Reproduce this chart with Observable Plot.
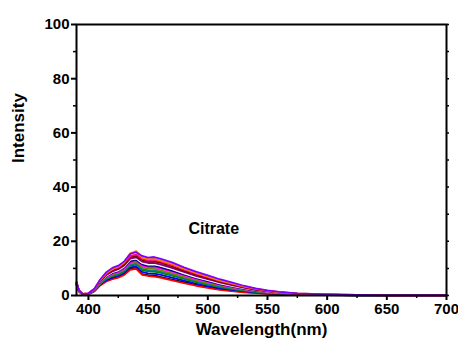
<!DOCTYPE html>
<html>
<head>
<meta charset="utf-8">
<script src="https://cdn.jsdelivr.net/npm/d3@7"></script>
<script src="https://cdn.jsdelivr.net/npm/@observablehq/plot@0.6"></script>
<style>
  html, body { margin: 0; padding: 0; background: #fff; }
  #chart { width: 458px; height: 346px; }
</style>
</head>
<body>
<div id="chart"></div>
<script>
// ---- data ----
const wavelengths = [390, 392, 395, 400, 405, 410, 415, 420, 425, 430, 435, 440, 445, 450, 455, 460, 470, 480, 490, 500, 510, 520, 530, 540, 550, 560, 575, 600, 625, 650, 675, 700];

const sBlack   = [3.8, 1.5, 0.4, 0.5, 1.6, 3.9, 5.4, 6.2, 6.8, 7.9, 9.8, 10.1, 7.9, 7.5, 7.4, 6.9, 5.9, 4.9, 3.9, 3.0, 2.3, 1.8, 1.3, 1.0, 0.7, 0.5, 0.3, 0.15, 0.1, 0.05, 0.05, 0.05];
const sRed     = [4.0, 1.5, 0.4, 0.5, 1.6, 3.8, 5.2, 6.0, 6.6, 7.6, 9.5, 9.8, 7.6, 7.2, 7.0, 6.6, 5.6, 4.6, 3.6, 2.8, 2.1, 1.6, 1.2, 0.9, 0.7, 0.5, 0.3, 0.15, 0.1, 0.05, 0.05, 0.05];
const sBlue    = [4.2, 1.6, 0.4, 0.5, 1.7, 4.1, 5.7, 6.6, 7.3, 8.4, 10.4, 10.7, 8.7, 8.2, 8.1, 7.7, 6.6, 5.5, 4.4, 3.5, 2.7, 2.1, 1.6, 1.2, 0.9, 0.6, 0.4, 0.2, 0.1, 0.1, 0.05, 0.05];
const sGreen   = [4.3, 1.6, 0.5, 0.6, 1.8, 4.4, 6.1, 7.1, 7.7, 8.9, 11.0, 11.4, 9.4, 8.9, 8.8, 8.4, 7.3, 6.1, 4.9, 4.0, 3.1, 2.4, 1.8, 1.3, 1.0, 0.7, 0.4, 0.2, 0.1, 0.1, 0.05, 0.05];
const sCyan    = [4.3, 1.7, 0.5, 0.6, 1.9, 4.5, 6.3, 7.3, 8.0, 9.2, 11.4, 11.8, 9.8, 9.4, 9.3, 8.8, 7.7, 6.5, 5.3, 4.3, 3.3, 2.6, 2.0, 1.4, 1.1, 0.8, 0.5, 0.2, 0.1, 0.1, 0.05, 0.05];
const sOlive   = [4.4, 1.7, 0.5, 0.6, 2.0, 4.7, 6.6, 7.7, 8.4, 9.6, 11.9, 12.3, 10.4, 9.9, 9.9, 9.4, 8.2, 6.9, 5.7, 4.6, 3.7, 2.9, 2.2, 1.6, 1.2, 0.8, 0.5, 0.25, 0.15, 0.1, 0.05, 0.05];
const sMagenta = [4.5, 1.7, 0.5, 0.6, 2.0, 4.9, 6.8, 8.0, 8.7, 10.0, 12.3, 12.8, 11.0, 10.5, 10.5, 10.0, 8.8, 7.4, 6.1, 5.0, 4.0, 3.1, 2.4, 1.7, 1.3, 0.9, 0.5, 0.3, 0.15, 0.1, 0.05, 0.05];
const sNavy    = [4.5, 1.8, 0.5, 0.7, 2.1, 5.0, 7.1, 8.3, 9.0, 10.4, 12.7, 13.2, 11.5, 10.9, 11.0, 10.5, 9.2, 7.8, 6.5, 5.3, 4.2, 3.4, 2.5, 1.8, 1.4, 0.9, 0.6, 0.3, 0.15, 0.1, 0.05, 0.05];
const sWhite   = [4.6, 1.8, 0.5, 0.7, 2.2, 5.2, 7.3, 8.6, 9.3, 10.7, 13.2, 13.6, 12.0, 11.4, 11.5, 11.0, 9.7, 8.2, 6.8, 5.7, 4.5, 3.6, 2.7, 2.0, 1.4, 1.0, 0.6, 0.3, 0.15, 0.1, 0.05, 0.05];
const sPurple  = [4.7, 1.9, 0.5, 0.7, 2.2, 5.3, 7.6, 8.9, 9.7, 11.1, 13.6, 14.1, 12.5, 12.0, 12.0, 11.5, 10.2, 8.7, 7.2, 6.0, 4.8, 3.8, 2.9, 2.1, 1.5, 1.1, 0.6, 0.3, 0.15, 0.1, 0.1, 0.1];
const sWine    = [4.8, 1.9, 0.6, 0.7, 2.3, 5.5, 7.9, 9.3, 10.0, 11.5, 14.1, 14.6, 13.1, 12.5, 12.6, 12.1, 10.7, 9.1, 7.7, 6.4, 5.1, 4.1, 3.1, 2.2, 1.6, 1.1, 0.7, 0.35, 0.2, 0.1, 0.1, 0.1];
const sPink    = [4.9, 1.9, 0.6, 0.8, 2.4, 5.7, 8.1, 9.6, 10.4, 11.9, 14.6, 15.1, 13.6, 13.0, 13.2, 12.6, 11.3, 9.6, 8.1, 6.8, 5.4, 4.4, 3.3, 2.4, 1.7, 1.2, 0.7, 0.35, 0.2, 0.15, 0.1, 0.1];
const sOrange  = [4.9, 2.0, 0.6, 0.8, 2.4, 5.8, 8.3, 9.8, 10.6, 12.3, 15.6, 16.4, 14.0, 13.4, 13.6, 13.0, 11.7, 9.9, 8.3, 7.0, 5.6, 4.5, 3.4, 2.5, 1.8, 1.2, 0.8, 0.4, 0.2, 0.15, 0.1, 0.1];
const sViolet  = [5.0, 2.0, 0.6, 0.8, 2.5, 6.0, 8.6, 10.2, 11.0, 12.6, 15.4, 16.0, 14.6, 14.0, 14.2, 13.6, 12.2, 10.4, 8.8, 7.4, 6.0, 4.8, 3.6, 2.6, 1.9, 1.3, 0.8, 0.4, 0.2, 0.15, 0.1, 0.1];

const seriesNames  = ["black", "red", "blue", "green", "cyan", "olive", "magenta", "navy", "white", "purple", "wine", "pink", "orange", "violet"];
const seriesValues = [sBlack, sRed, sBlue, sGreen, sCyan, sOlive, sMagenta, sNavy, sWhite, sPurple, sWine, sPink, sOrange, sViolet];
const seriesColors = ["#000000", "#FF0000", "#0000FF", "#008000", "#008080", "#808000", "#FF00FF", "#000080", "#FFFFFF", "#800080", "#800000", "#FF0080", "#FF8000", "#8000FF"];

const xMajor = [400, 450, 500, 550, 600, 650, 700];
const xMinor = [425, 475, 525, 575, 625, 675];
const yMajor = [0, 20, 40, 60, 80, 100];
const yMinor = [10, 30, 50, 70, 90];

const annotation = ["Citrate"];

// ---- build long table ----
const rows = [];
seriesNames.forEach((name, i) => {
  seriesValues[i].forEach((v, j) => rows.push({series: name, wl: wavelengths[j], value: v}));
});

const chart = Plot.plot({
  width: 458,
  height: 346,
  marginLeft: 76,
  marginRight: 12,
  marginTop: 24,
  marginBottom: 51,
  style: {fontFamily: "'Liberation Sans', Arial, sans-serif", fontWeight: "bold", background: "#fff", color: "#000"},
  x: {domain: [390, 700], axis: null},
  y: {domain: [0, 100], axis: null},
  color: {domain: seriesNames, range: seriesColors},
  marks: [
    Plot.line(rows, {x: "wl", y: "value", z: "series", stroke: "series", strokeWidth: 1.8}),
    Plot.frame({stroke: "#000", strokeWidth: 2}),
    Plot.axisX({ticks: xMajor, tickSize: 5, tickPadding: 3, fontSize: 15, strokeWidth: 2, label: null}),
    Plot.axisX({ticks: xMinor, tickSize: 3, text: null, strokeWidth: 1.5, label: null}),
    Plot.axisY({ticks: yMajor, tickSize: 5, tickPadding: 2, fontSize: 15, strokeWidth: 2, label: null}),
    Plot.axisY({ticks: yMinor, tickSize: 3, text: null, strokeWidth: 1.5, label: null}),
    Plot.axisY({anchor: "right", ticks: yMajor.concat(yMinor), tickSize: 2, text: null, strokeWidth: 1.5, label: null}),
    Plot.text(annotation, {x: () => 505, y: () => 24.7, text: d => d, fontSize: 16, fontWeight: "bold"}),
    Plot.text(["Wavelength(nm)"], {frameAnchor: "bottom", dy: 39, text: d => d, fontSize: 17, fontWeight: "bold"}),
    Plot.text(["Intensity"], {frameAnchor: "left", dx: -58, dy: 3, rotate: -90, text: d => d, fontSize: 17, fontWeight: "bold"})
  ]
});
document.getElementById("chart").appendChild(chart);
</script>
</body>
</html>
